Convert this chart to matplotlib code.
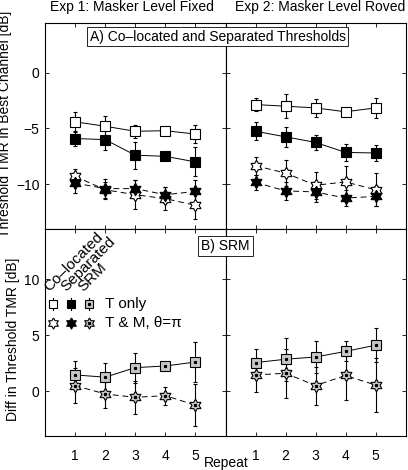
import numpy as np
import matplotlib
matplotlib.use("Agg")
import matplotlib.pyplot as plt

plt.rcParams["font.family"] = ["Liberation Sans", "DejaVu Sans"]

# -----------------------------
# data
# -----------------------------
repeats = [1, 2, 3, 4, 5]

# Exp 1: masker level fixed
e1_col_t = [-4.4, -4.8, -5.25, -5.2, -5.5]
e1_col_t_err = [0.9, 0.9, 0.6, 0.1, 0.8]
e1_sep_t = [-5.9, -6.0, -7.4, -7.5, -8.0]
e1_sep_t_err = [0.7, 0.9, 1.2, 0.1, 1.3]
e1_col_tm = [-9.3, -10.5, -10.95, -11.3, -11.9]
e1_col_tm_err = [0.7, 0.7, 1.3, 1.0, 1.2]
e1_sep_tm = [-9.9, -10.4, -10.4, -10.95, -10.65]
e1_sep_tm_err = [0.9, 0.9, 0.8, 0.7, 1.0]

# Exp 2: masker level roved
e2_col_t = [-2.85, -3.0, -3.15, -3.5, -3.15]
e2_col_t_err = [0.6, 1.1, 0.8, 0.3, 0.9]
e2_sep_t = [-5.25, -5.75, -6.25, -7.15, -7.2]
e2_sep_t_err = [0.8, 0.9, 0.7, 0.8, 0.75]
e2_col_tm = [-8.35, -9.0, -10.1, -9.8, -10.5]
e2_col_tm_err = [0.8, 1.2, 1.2, 1.4, 1.5]
e2_sep_tm = [-9.85, -10.6, -10.7, -11.25, -11.1]
e2_sep_tm_err = [0.7, 0.8, 0.9, 0.75, 0.9]

# SRM (difference)
e1_srm_t = [1.45, 1.25, 2.1, 2.25, 2.6]
e1_srm_t_err = [1.25, 1.3, 1.35, 0.1, 1.8]
e1_srm_tm = [0.5, -0.25, -0.55, -0.4, -1.25]
e1_srm_tm_err = [1.55, 1.25, 1.5, 0.8, 1.85]
e2_srm_t = [2.55, 2.85, 3.05, 3.55, 4.1]
e2_srm_t_err = [1.2, 1.9, 1.4, 0.9, 1.5]
e2_srm_tm = [1.45, 1.6, 0.5, 1.4, 0.55]
e2_srm_tm_err = [1.5, 2.2, 1.7, 2.2, 2.4]

# hexagram marker (matlab style)
hexa = []
for k in range(6):
    a = np.deg2rad(90 + 60 * k)
    b = np.deg2rad(120 + 60 * k)
    hexa.append((np.cos(a), np.sin(a)))
    hexa.append((np.cos(b) / np.sqrt(3), np.sin(b) / np.sqrt(3)))
hexa.append(hexa[0])

GRAY = "#c6c6c6"
DASH = (0, (6, 4))
FS = 10


def serie(ax, y, err, marker, face, ls, ms, dot=False):
    ax.errorbar(repeats, y, yerr=err, color="k", ls=ls, lw=0.7,
                marker=marker, ms=ms, mfc=face, mec="k", mew=0.8,
                elinewidth=0.8, capsize=1.2, capthick=0.8)
    if dot:
        ax.plot(repeats, y, ls="none", marker="s", ms=1.3, color="k", zorder=5)


fig = plt.figure(figsize=(4.08, 4.70), dpi=100)
W, H = 408.0, 470.0


def box(x0, y0, x1, y1):
    return [x0 / W, 1 - y1 / H, (x1 - x0) / W, (y1 - y0) / H]


ax_tl = fig.add_axes(box(45, 22.7, 225.5, 228.7))
ax_tr = fig.add_axes(box(225.5, 22.7, 405.5, 228.7))
ax_bl = fig.add_axes(box(45, 228.7, 225.5, 436))
ax_br = fig.add_axes(box(225.5, 228.7, 405.5, 436))

serie(ax_tl, e1_col_t, e1_col_t_err, "s", "white", "-", 6.5)
serie(ax_tl, e1_sep_t, e1_sep_t_err, "s", "black", "-", 6.5)
serie(ax_tl, e1_col_tm, e1_col_tm_err, hexa, "white", DASH, 9)
serie(ax_tl, e1_sep_tm, e1_sep_tm_err, hexa, "black", DASH, 9)

serie(ax_tr, e2_col_t, e2_col_t_err, "s", "white", "-", 6.5)
serie(ax_tr, e2_sep_t, e2_sep_t_err, "s", "black", "-", 6.5)
serie(ax_tr, e2_col_tm, e2_col_tm_err, hexa, "white", DASH, 9)
serie(ax_tr, e2_sep_tm, e2_sep_tm_err, hexa, "black", DASH, 9)

serie(ax_bl, e1_srm_t, e1_srm_t_err, "s", GRAY, "-", 6.5, dot=True)
serie(ax_bl, e1_srm_tm, e1_srm_tm_err, hexa, GRAY, DASH, 9, dot=True)
serie(ax_br, e2_srm_t, e2_srm_t_err, "s", GRAY, "-", 6.5, dot=True)
serie(ax_br, e2_srm_tm, e2_srm_tm_err, hexa, GRAY, DASH, 9, dot=True)

for ax in (ax_tl, ax_tr, ax_bl, ax_br):
    ax.set_xlim(0, 6)
    ax.set_xticks(repeats)
    ax.tick_params(direction="in", length=3, width=0.6, top=True, right=True,
                   labelsize=FS, pad=4)
    for s in ax.spines.values():
        s.set_linewidth(0.8)

for ax in (ax_tl, ax_tr):
    ax.set_ylim(-14, 4.5)
    ax.set_yticks([-10, -5, 0])
    ax.tick_params(labelbottom=False)
for ax in (ax_bl, ax_br):
    ax.set_ylim(-4, 14.5)
    ax.set_yticks([0, 5, 10])
    ax.tick_params(axis="x", pad=9)
for ax in (ax_tr, ax_br):
    ax.tick_params(labelleft=False)

# titles / labels
fig.text(132 / W, 1 - 7.5 / H, "Exp 1: Masker Level Fixed", ha="center", va="center", fontsize=FS)
fig.text(320 / W, 1 - 7.5 / H, "Exp 2: Masker Level Roved", ha="center", va="center", fontsize=FS)
fig.text(5.5 / W, 1 - 123.5 / H, "Threshold TMR in Best Channel [dB]", rotation=90,
         ha="center", va="center", fontsize=FS)
fig.text(13.5 / W, 1 - 339 / H, "Diff in Threshold TMR [dB]", rotation=90,
         ha="center", va="center", fontsize=FS)
fig.text(226 / W, 1 - 463 / H, "Repeat", ha="center", va="center", fontsize=FS)

bb = dict(boxstyle="square,pad=0.2", fc="white", ec="black", lw=0.6)
fig.text(217.5 / W, 1 - 36.5 / H, "A) Co\u2013located and Separated Thresholds",
         ha="center", va="center", fontsize=FS, bbox=bb, zorder=10)
fig.text(225.5 / W, 1 - 246 / H, "B) SRM", ha="center", va="center",
         fontsize=FS, bbox=bb, zorder=10)

# hand-made legend in the lower left panel
tr = ax_bl.transAxes
cols = [0.046, 0.144, 0.245]
faces = ["white", "black", GRAY]
for cx, fc in zip(cols, faces):
    ax_bl.plot([cx, cx], [0.606, 0.666], color="k", lw=0.8, transform=tr, clip_on=False)
    ax_bl.plot([cx], [0.636], marker="s", ms=6, mfc=fc, mec="k", mew=0.8,
               transform=tr, clip_on=False)
    ax_bl.plot([cx], [0.547], marker=hexa, ms=8, mfc=fc, mec="k", mew=0.8,
               transform=tr, clip_on=False)
    if fc == GRAY:
        ax_bl.plot([cx], [0.636], marker="s", ms=1.3, color="k", transform=tr)
        ax_bl.plot([cx], [0.547], marker="s", ms=1.3, color="k", transform=tr)
ax_bl.text(0.332, 0.636, "T only", transform=tr, ha="left", va="center", fontsize=11)
ax_bl.text(0.332, 0.547, "T & M, \u03b8=\u03c0", transform=tr, ha="left", va="center", fontsize=11)
for (tx, ty), s in zip([(0.022, 0.693), (0.117, 0.693), (0.215, 0.693)],
                       ["Co\u2013located", "Separated", "SRM"]):
    ax_bl.text(tx, ty, s, transform=tr, rotation=45, rotation_mode="anchor",
               ha="left", va="baseline", fontsize=11)

fig.savefig("out.png", dpi=100)
